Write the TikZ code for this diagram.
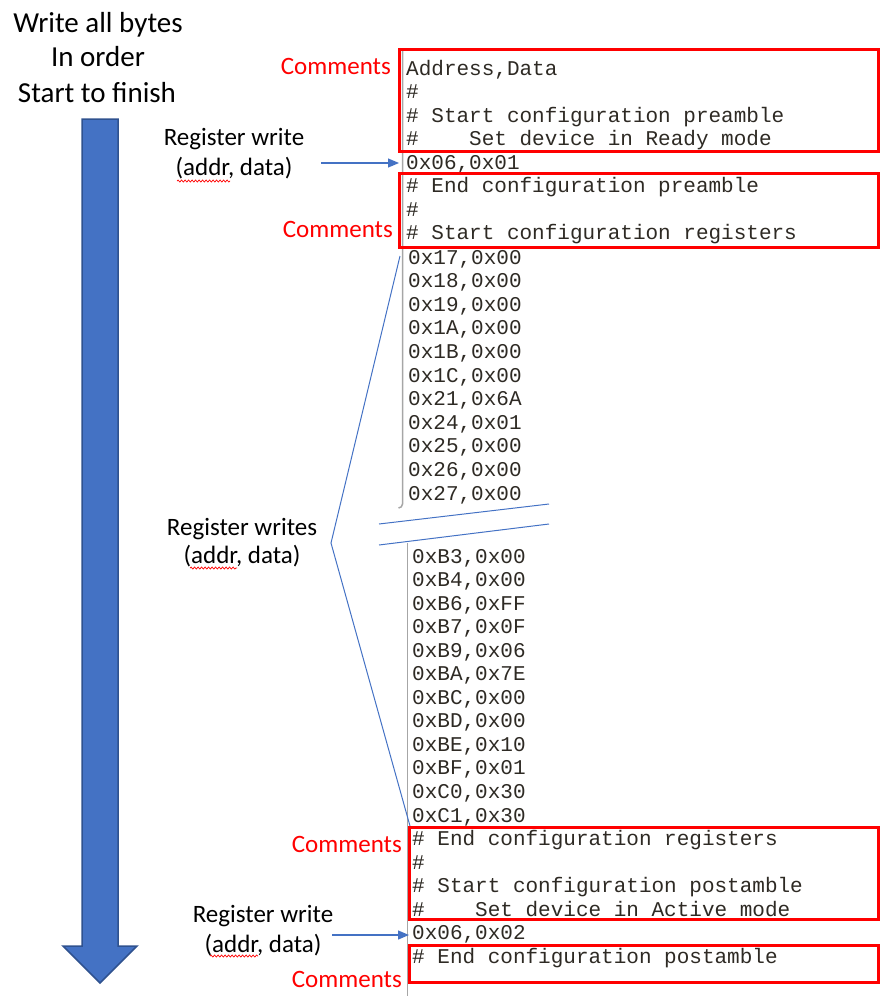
\documentclass[tikz,border=0pt]{standalone}
\usepackage{fontspec}
\setmainfont{Carlito}
\newfontfamily\codefont{Liberation Mono}
\usetikzlibrary{arrows.meta,decorations.pathmorphing}
\definecolor{arrowblue}{HTML}{4472C4}
\definecolor{arrowedge}{HTML}{2F528F}
\definecolor{codegray}{HTML}{2E2A24}
\definecolor{bordergray}{HTML}{A6A6A6}
\definecolor{boxred}{HTML}{FF0000}
\begin{document}
\begin{tikzpicture}[x=1pt,y=-1pt,
 code/.style={anchor=base west, inner sep=0pt, font=\codefont\fontsize{21}{24}\selectfont, text=codegray},
 commentlbl/.style={anchor=base east, inner sep=0pt, font=\fontsize{25}{30}\selectfont, text=boxred},
 sidelbl/.style={anchor=base, inner sep=0pt, font=\fontsize{25}{30}\selectfont},
 titlelbl/.style={anchor=base, inner sep=0pt, font=\fontsize{29}{34}\selectfont},
 redbox/.style={draw=boxred, line width=3pt},
 thinblue/.style={draw=arrowblue, line width=1pt},
 pointer/.style={draw=arrowblue, line width=1.2pt, -{Triangle[length=11pt,width=9pt]}},
 squiggle/.style={draw=red, line width=0.7pt, decorate, decoration={snake, segment length=3.5pt, amplitude=1pt}},
 listborder/.style={draw=bordergray, line width=1.5pt},
 bigarrow/.style={fill=arrowblue, draw=arrowedge, line width=1.5pt, line join=miter}
]
\useasboundingbox (0,0) rectangle (880,996);

% big downward arrow
\draw[bigarrow] (82,119) -- (118,119) -- (118,946) -- (137,946) -- (100,983) -- (63,946) -- (82,946) -- cycle;

% titles
\node[titlelbl] (t1) at (98,32) {Write all bytes};
\node[titlelbl] (t2) at (98,66) {In order};
\node[titlelbl] (t3) at (97,102) {Start to finish};

% listing borders
\draw[listborder] (402.5,49) -- (402.5,504) arc[start angle=180, end angle=90, radius=-4pt];
\draw[listborder] (407.5,543) -- (407.5,996);

% code block A
\foreach \txt [count=\i from 0] in {{Address,Data},{\#},{\# Start configuration preamble},{\#\ \ \ \ Set device in Ready mode},{0x06,0x01},{\# End configuration preamble},{\#},{\# Start configuration registers}}
  \node[code] (ta\i) at ({406},{75+\i*23.57}) {\txt};

% code block B
\foreach \txt [count=\i from 0] in {{0x17,0x00},{0x18,0x00},{0x19,0x00},{0x1A,0x00},{0x1B,0x00},{0x1C,0x00},{0x21,0x6A},{0x24,0x01},{0x25,0x00},{0x26,0x00},{0x27,0x00}}
  \node[code] (tb\i) at ({408},{264+\i*23.6}) {\txt};

% code block C
\foreach \txt [count=\i from 0] in {{0xB3,0x00},{0xB4,0x00},{0xB6,0xFF},{0xB7,0x0F},{0xB9,0x06},{0xBA,0x7E},{0xBC,0x00},{0xBD,0x00},{0xBE,0x10},{0xBF,0x01},{0xC0,0x30},{0xC1,0x30},{\# End configuration registers},{\#},{\# Start configuration postamble},{\#\ \ \ \ Set device in Active mode},{0x06,0x02},{\# End configuration postamble}}
  \node[code] (tc\i) at ({412},{563+\i*23.55}) {\txt};

% red comment boxes
\draw[redbox] (399,49) rectangle (878,151);
\draw[redbox] (399,173) rectangle (878,247);
\draw[redbox] (409,827) rectangle (878,919);
\draw[redbox] (409,945) rectangle (878,982);

% Comments labels
\node[commentlbl] (cm1) at (391,74) {Comments};
\node[commentlbl] (cm2) at (393,237) {Comments};
\node[commentlbl] (cm3) at (402,852) {Comments};
\node[commentlbl] (cm4) at (402,987) {Comments};

% side labels
\node[sidelbl] (rw1a) at (234,145) {Register write};
\node[sidelbl] (rw1b) at (234,175) {(addr, data)};
\node[sidelbl] (rwsa) at (242,535) {Register writes};
\node[sidelbl] (rwsb) at (242,563) {(addr, data)};
\node[sidelbl] (rw2a) at (263,922) {Register write};
\node[sidelbl] (rw2b) at (263,952) {(addr, data)};

% spell-check squiggles
\draw[squiggle] (177,181) -- (230,181);
\draw[squiggle] (190,568) -- (237,568);
\draw[squiggle] (210,956) -- (258,956);

% pointers
\coordinate (p1s) at (321,163);
\coordinate (p1e) at (399,163);
\coordinate (p2s) at (332,935);
\coordinate (p2e) at (409,935);
\draw[pointer] (p1s) -- (p1e);
\draw[pointer] (p2s) -- (p2e);

% fan lines
\coordinate (apex) at (331,543);
\coordinate (fanTop) at (400,256);
\coordinate (fanBot) at (410,826);
\draw[thinblue] (fanTop) -- (apex) -- (fanBot);

% break lines
\coordinate (b1l) at (379,524);
\coordinate (b1r) at (549,504);
\coordinate (b2l) at (379,545);
\coordinate (b2r) at (549,524);
\draw[thinblue] (b1l) -- (b1r);
\draw[thinblue] (b2l) -- (b2r);
\end{tikzpicture}
\end{document}
